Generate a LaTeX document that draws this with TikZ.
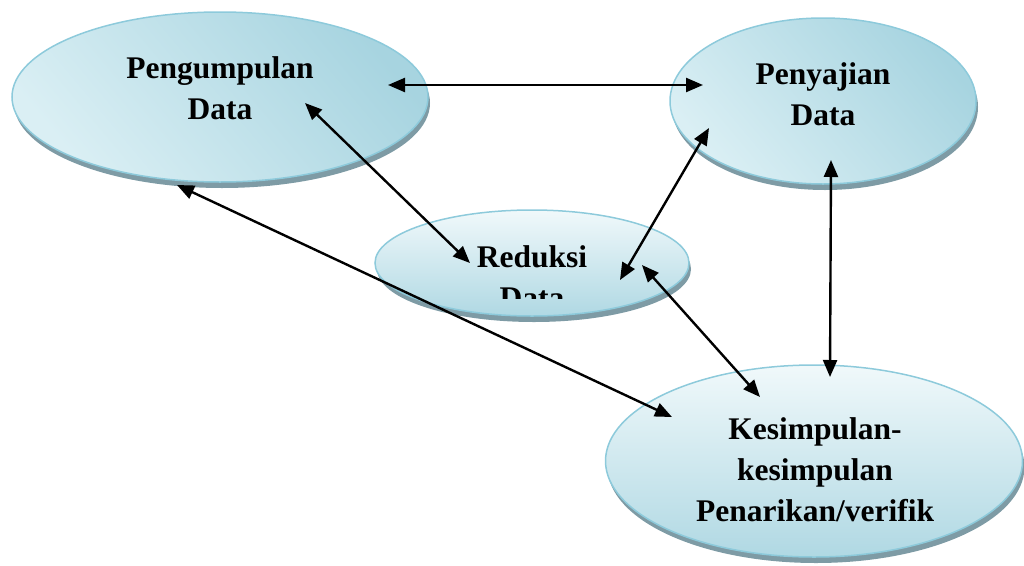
\documentclass[tikz,border=0pt]{standalone}
\usepackage{fontspec}
\setmainfont{Liberation Serif}
\usetikzlibrary{shapes.geometric,shadows,arrows.meta}
\definecolor{ovalline}{HTML}{8DCADB}
\definecolor{ovallight}{HTML}{DAEFF4}
\definecolor{ovaldark}{HTML}{A7D4E0}
\definecolor{ovalshadow}{HTML}{7E9BA5}
\tikzstyle{blue oval}=[
    ellipse,
    draw = ovalline,
    line width = 1.5pt,
    inner sep = 0pt,
    drop shadow = {shadow xshift=2pt, shadow yshift=-6pt, fill=ovalshadow, opacity=1}
]
\tikzstyle{side lit}=[top color=ovaldark, bottom color=ovallight, shading angle=-50]
\tikzstyle{top lit}=[top color=white!60!ovallight, bottom color=ovaldark!90]

\begin{document}
\begin{tikzpicture}[x=1pt, y=-1pt,
    both/.style = {arrows={Triangle[length=17pt,width=14pt]-Triangle[length=17pt,width=14pt]}, line width=2.4pt},
    lbl/.style = {font=\fontsize{31.5}{41}\selectfont\bfseries, align=center, inner sep=0pt}]
        \useasboundingbox (0,0) rectangle (1024,565);

        \node[blue oval, side lit, minimum width=416pt, minimum height=170pt] (peng) at (220,97) {};
        \node[blue oval, side lit, minimum width=306pt, minimum height=166pt] (peny) at (823,101) {};
        \node[blue oval, top lit, minimum width=314pt, minimum height=106pt] (red) at (532,263) {};
        \node[blue oval, top lit, minimum width=417pt, minimum height=192pt] (kes) at (814,461) {};

        \node[lbl] (pengtxt) at (220,88) {Pengumpulan\\Data};
        \node[lbl] (penytxt) at (823,94) {Penyajian\\Data};
        \node[lbl] (kestxt) at (815,470) {Kesimpulan-\\kesimpulan\\Penarikan/verifik};
        \begin{scope}
            \clip (375,200) rectangle (690,298);
            \node[lbl] (redtxt) at (532,277) {Reduksi\\Data};
        \end{scope}

        \draw[both] ([shift={(168,-12)}]peng.center) -- ([shift={(-120,-16)}]peny.center);
        \draw[both] ([shift={(85,6)}]peng.center) -- ([shift={(-62,0)}]red.center);
        \draw[both] ([shift={(-43,88)}]peng.center) -- ([shift={(-142,-44)}]kes.center);
        \draw[both] ([shift={(-114,27)}]peny.center) -- ([shift={(88,17)}]red.center);
        \draw[both] ([shift={(110,2)}]red.center) -- ([shift={(-54,-64)}]kes.center);
        \draw[both] ([shift={(8,59)}]peny.center) -- ([shift={(16,-84)}]kes.center);

    \end{tikzpicture}
\end{document}
